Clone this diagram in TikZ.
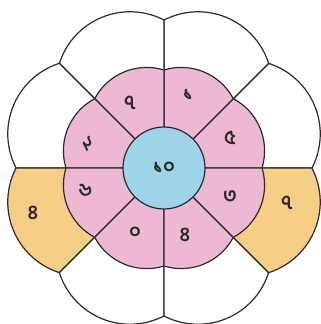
\documentclass[tikz,border=0pt]{standalone}
\usepackage{fontspec}
\newfontfamily\bnfont[Script=Bengali]{Hind Siliguri}
\usetikzlibrary{calc}
\usepackage{xcolor}
\definecolor{petalpink}{HTML}{EDB9D2}
\definecolor{hubblue}{HTML}{9DD4E8}
\definecolor{petalyellow}{HTML}{F6CE86}
\definecolor{dark}{HTML}{2B2B2B}
\tikzset{
  outline/.style={draw=dark, line width=1.2pt, line join=round},
  whitepetal/.style={outline, fill=white},
  yellowpetal/.style={outline, fill=petalyellow},
  pinkpetal/.style={outline, fill=petalpink},
  hub/.style={outline, fill=hubblue, circle, minimum size=82pt, inner sep=0pt},
  num/.style={font=\bnfont\bfseries\fontsize{20}{20}\selectfont, text=dark, inner sep=0pt}
}

\begin{document}
\begin{tikzpicture}[x=1pt, y=1pt]
  \useasboundingbox (-164,-156) rectangle (157,168);
  % outer ring of petals
  \foreach \a/\look in {22.5/whitepetal, 67.5/whitepetal, 112.5/whitepetal, 157.5/whitepetal,
                        202.5/yellowpetal, 247.5/whitepetal, 292.5/whitepetal, 337.5/yellowpetal}
    \draw[\look] (0,0) -- ({\a-22.5}:148) arc[start angle=\a-49.8, end angle=\a+49.8, radius=74.1] -- cycle;
  % inner ring of petals
  \foreach \a in {22.5, 67.5, 112.5, 157.5, 202.5, 247.5, 292.5, 337.5}
    \draw[pinkpetal] (0,0) -- ({\a-22.5}:98) arc[start angle=\a-39.5, end angle=\a+39.5, radius=59] -- cycle;
  \node[hub, num] (hub) at (0,0) {১০};
  % numbers in the pink petals
  \node[num] (ntopleft) at (-34,65) {৭};
  \node[num] (ntopright) at (24,73) {১};
  \node[num] (nrightup) at (66,30) {৫};
  \node[num] (nrightdown) at (66,-29) {৩};
  \node[num] (nbottomright) at (21,-67) {৪};
  \node[num] (nbottomleft) at (-29,-65) {০};
  \node[num, rotate=20] (nleftdown) at (-79,-22) {৬};
  \node[num, rotate=-30] (nleftup) at (-76,24) {২};
  % numbers in the yellow petals
  \node[num] (nouterleft) at (-131,-45) {৪};
  \node[num] (nouterright) at (123,-35) {৭};
\end{tikzpicture}
\end{document}
